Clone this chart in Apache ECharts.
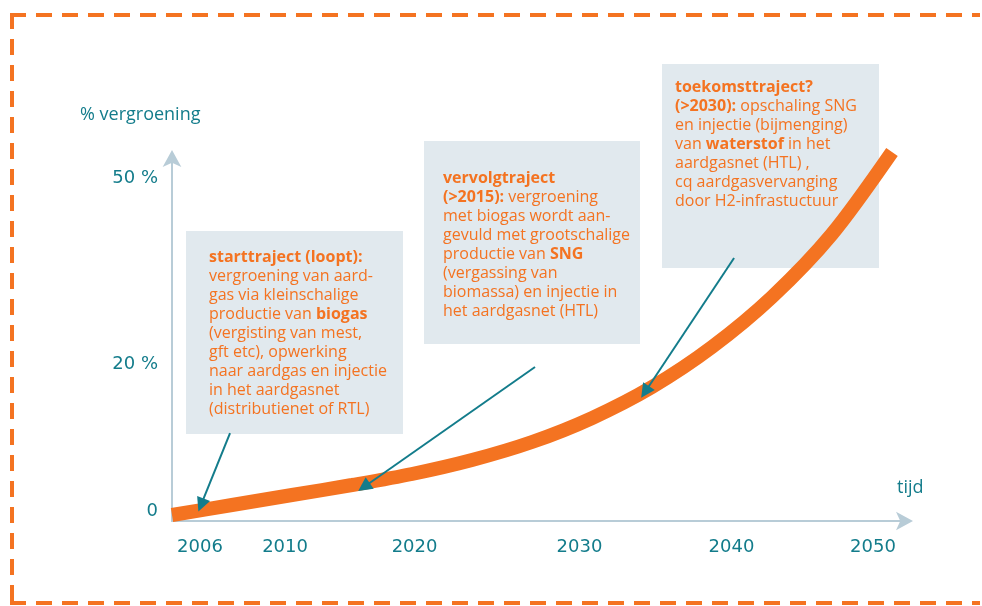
<!DOCTYPE html>
<html><head><meta charset="utf-8">
<script src="https://cdn.jsdelivr.net/npm/echarts@6/dist/echarts.min.js"></script>
<style>html,body{margin:0;padding:0;background:#fff}#c{width:982px;height:606px}</style>
</head><body><div id="c"></div>
<script>
// schematic growth curve (time in years, height in schematic units 0-100)
const years = [2004.00, 2007.97, 2011.94, 2015.91, 2019.88, 2023.85, 2027.82, 2031.79, 2035.76, 2039.73, 2043.70, 2047.67, 2051.64];
const greening = [1.65, 4.41, 7.16, 9.92, 12.95, 16.80, 21.76, 28.37, 36.91, 47.93, 61.71, 79.06, 101.65];

// tick labels and where the schematic prints them
const xTickLabels = ['2006', '2010', '2020', '2030', '2040', '2050'];
const xTickAt = [2005.85, 2011.48, 2020.05, 2030.96, 2041.02, 2050.38];
const yTickLabels = ['0', '20 %', '50 %'];
const yTickAt = [2.75, 43.25, 94.49];

// annotation arrows: [from, to] in chart coordinates
const arrowFrom = [[2007.84, 24.24], [2028.02, 42.42], [2041.19, 72.45]];
const arrowTo = [[2005.92, 4.41], [2016.70, 9.37], [2035.30, 35.54]];

const yName = '% vergroening';
const xName = 'tijd';

const startText = ['{b|starttraject (loopt):}', 'vergroening van aard-', 'gas via kleinschalige', 'productie van {b|biogas}', '(vergisting van mest,', 'gft etc), opwerking', 'naar aardgas en injectie', 'in het aardgasnet', '(distributienet of RTL)'];
const vervolgText = ['{b|vervolgtraject}', '{b|(>2015):} vergroening', 'met biogas wordt aan-', 'gevuld met grootschalige', 'productie van {b|SNG}', '(vergassing van', 'biomassa) en injectie in', 'het aardgasnet (HTL)'];
const toekomstText = ['{b|toekomsttraject?}', '{b|(>2030):} opschaling SNG', 'en injectie (bijmenging)', 'van {b|waterstof} in het', 'aardgasnet (HTL) ,', 'cq aardgasvervanging', 'door H2-infrastuctuur'];

const ORANGE = '#f47321';
const TEAL = '#137c8b';
const AXIS = '#b8ccd7';
const BOX = '#e1e9ee';

function box(x, y, w, h, tx, ty, lines) {
  return {
    type: 'group', z: 0,
    children: [
      { type: 'rect', shape: { x: x, y: y, width: w, height: h }, style: { fill: BOX }, z: 0 },
      { type: 'text', x: tx, y: ty, z: 1,
        style: {
          text: lines.join('\n'),
          fill: ORANGE,
          fontFamily: 'Open Sans',
          fontSize: 16,
          lineHeight: 19,
          rich: { b: { fontWeight: 'bold', fill: ORANGE, fontFamily: 'Open Sans', fontSize: 16, lineHeight: 19 } }
        } }
    ]
  };
}

const chart = echarts.init(document.getElementById('c'), null, { renderer: 'canvas' });
chart.setOption({
  animation: false,
  grid: { left: 172, top: 158, width: 733, height: 363 },
  xAxis: {
    type: 'value', min: 2004, max: 2052.5,
    axisLine: { show: true, symbol: ['none', 'arrow'], symbolSize: [14, 17], symbolOffset: [0, 8], lineStyle: { color: AXIS, width: 2 } },
    axisTick: { show: false },
    splitLine: { show: false },
    axisLabel: {
      customValues: xTickAt,
      margin: 17,
      color: TEAL,
      fontFamily: 'DejaVu Sans',
      fontSize: 18,
      formatter: function (v) {
        const i = xTickAt.findIndex(p => Math.abs(p - v) < 1e-6);
        return i >= 0 ? xTickLabels[i] : '';
      }
    }
  },
  yAxis: {
    type: 'value', min: 0, max: 100,
    axisLine: { show: true, symbol: ['none', 'arrow'], symbolSize: [14, 17], symbolOffset: [0, 8], lineStyle: { color: AXIS, width: 2 } },
    axisTick: { show: false },
    splitLine: { show: false },
    axisLabel: {
      customValues: yTickAt,
      margin: 14,
      color: TEAL,
      fontFamily: 'DejaVu Sans',
      fontSize: 18,
      formatter: function (v) {
        const i = yTickAt.findIndex(p => Math.abs(p - v) < 1e-6);
        return i >= 0 ? yTickLabels[i] : '';
      }
    }
  },
  series: [{
    type: 'line',
    data: years.map((x, i) => [x, greening[i]]),
    smooth: 0.3,
    showSymbol: false,
    clip: false,
    lineStyle: { color: ORANGE, width: 14, cap: 'butt' },
    emphasis: { disabled: true },
    z: 2,
    markLine: {
      silent: true,
      animation: false,
      symbol: ['none', 'triangle'],
      symbolSize: 14,
      lineStyle: { color: TEAL, width: 2, type: 'solid' },
      itemStyle: { color: TEAL },
      label: { show: false },
      emphasis: { disabled: true },
      data: arrowFrom.map((f, i) => [{ coord: f }, { coord: arrowTo[i] }])
    }
  }],
  graphic: [
    { type: 'line', shape: { x1: 10, y1: 15, x2: 980, y2: 15 }, style: { stroke: ORANGE, lineWidth: 4, lineDash: [16, 10] }, z: 0 },
    { type: 'line', shape: { x1: 12, y1: 13, x2: 12, y2: 605 }, style: { stroke: ORANGE, lineWidth: 4, lineDash: [16, 10] }, z: 0 },
    { type: 'line', shape: { x1: 10, y1: 603, x2: 980, y2: 603 }, style: { stroke: ORANGE, lineWidth: 4, lineDash: [16, 10] }, z: 0 },
    box(186, 231, 217, 203, 209, 247.5, startText),
    box(424, 141, 216, 203, 443, 168.5, vervolgText),
    box(662, 64, 217, 204, 675, 77.5, toekomstText),
    { type: 'text', x: 80, y: 115, z: 5, style: { text: yName, fill: TEAL, fontFamily: 'Open Sans', fontSize: 18, verticalAlign: 'middle' } },
    { type: 'text', x: 897, y: 488, z: 5, style: { text: xName, fill: TEAL, fontFamily: 'Open Sans', fontSize: 18, verticalAlign: 'middle' } }
  ]
});
</script>
</body></html>
